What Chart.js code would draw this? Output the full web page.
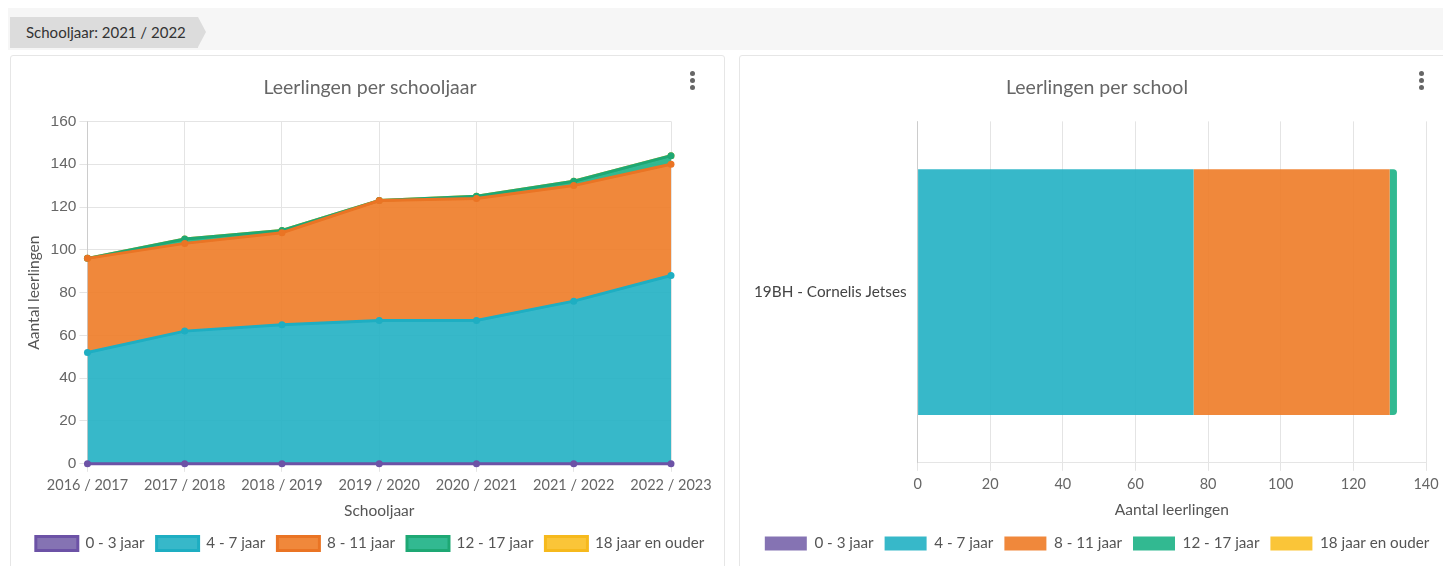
<!DOCTYPE html>
<html>
<head>
<meta charset="utf-8">
<script src="https://cdn.jsdelivr.net/npm/chart.js"></script>
<style>
  body { margin: 0; background: #fff; font-family: Lato, "Open Sans", sans-serif; width: 1443px; height: 566px; overflow: hidden; position: relative; }
  .balk { position: absolute; left: 8px; top: 8px; width: 1435px; height: 42px; background: #f6f6f6; }
  .tag { position: absolute; left: 10px; top: 17px; height: 31px; width: 188px; background: #dcdcdc; color: #333; font-size: 15px; line-height: 31px; padding-left: 16px; box-sizing: border-box; }
  .tag:after { content: ""; position: absolute; right: -8px; top: 0; border-left: 8px solid #dcdcdc; border-top: 15.5px solid transparent; border-bottom: 15.5px solid transparent; }
  .kaart { position: absolute; top: 55px; height: 520px; background: #fff; border: 1px solid #e6e6e6; border-radius: 3px; }
  .menu { position: absolute; top: 15px; width: 4px; }
  .menu span { display: block; width: 5px; height: 5px; border-radius: 50%; background: #666; margin-bottom: 2px; }
  canvas { position: absolute; }
</style>
</head>
<body>
<div class="balk"></div>
<div class="tag">Schooljaar: 2021 / 2022</div>

<div class="kaart" style="left:10px;width:713px;">
  <div class="menu" style="left:679px;"><span></span><span></span><span></span></div>
</div>
<div class="kaart" style="left:739px;width:710px;">
  <div class="menu" style="left:679px;"><span></span><span></span><span></span></div>
</div>

<div style="position:absolute;left:11px;top:58px;width:712px;height:506px;"><canvas id="grafiek-jaar"></canvas></div>
<div style="position:absolute;left:740px;top:58px;width:703px;height:506px;"><canvas id="grafiek-school"></canvas></div>

<script>
// Schooljaren en leeftijdsgroepen
const schooljaren = ["2016 / 2017", "2017 / 2018", "2018 / 2019", "2019 / 2020", "2020 / 2021", "2021 / 2022", "2022 / 2023"];
const groepen = ["0 - 3 jaar", "4 - 7 jaar", "8 - 11 jaar", "12 - 17 jaar", "18 jaar en ouder"];

const jaar0_3 = [0, 0, 0, 0, 0, 0, 0];
const jaar4_7 = [52, 62, 65, 67, 67, 76, 88];
const jaar8_11 = [44, 41, 43, 56, 57, 54, 52];
const jaar12_17 = [0, 2, 1, 0, 1, 2, 4];
const jaar18plus = [0, 0, 0, 0, 0, 0, 0];

// Huidig schooljaar per school
const scholen = ["19BH - Cornelis Jetses"];
const school0_3 = [0];
const school4_7 = [76];
const school8_11 = [54];
const school12_17 = [2];
const school18plus = [0];

const vulKleuren = ["rgba(120,100,171,0.9)", "rgba(33,176,195,0.9)", "rgba(238,123,38,0.9)", "rgba(28,177,133,0.9)", "rgba(250,191,34,0.9)"];
const lijnKleuren = ["#6c52a6", "#1eaec2", "#ea7424", "#1ea874", "#f6b91c"];

const fontNaam = "Lato, 'Open Sans', sans-serif";
Chart.defaults.font.family = fontNaam;
Chart.defaults.color = "#666";

const reeksenJaar = [jaar0_3, jaar4_7, jaar8_11, jaar12_17, jaar18plus];
const reeksenSchool = [school0_3, school4_7, school8_11, school12_17, school18plus];

const legendaLabels = { boxWidth: 42, boxHeight: 14, font: { size: 15.2 }, color: "#555", padding: 12 };

new Chart(document.getElementById("grafiek-jaar"), {
    type: "line",
    data: {
        labels: schooljaren,
        datasets: groepen.map((g, i) => ({
            label: g,
            data: reeksenJaar[i],
            backgroundColor: vulKleuren[i],
            borderColor: lijnKleuren[i],
            borderWidth: 3,
            pointRadius: 3.5,
            pointBackgroundColor: lijnKleuren[i],
            pointBorderWidth: 0,
            fill: i === 0 ? "origin" : "-1",
            clip: 6,
            tension: 0
        }))
    },
    options: {
        responsive: true,
        maintainAspectRatio: false,
        animation: false,
        layout: { padding: { left: 10, right: 4, bottom: 3 } },
        plugins: {
            title: { display: true, text: "Leerlingen per schooljaar", color: "#666", font: { size: 19.5, weight: "normal" }, padding: { top: 18, bottom: 22 } },
            legend: { position: "bottom", labels: legendaLabels },
            tooltip: { enabled: false }
        },
        scales: {
            x: {
                grid: { color: "#e4e4e4" },
                ticks: { font: { size: 14.5 }, color: "#666", maxRotation: 0, padding: 5 },
                title: { display: true, text: "Schooljaar", font: { size: 15.5 }, color: "#555", padding: { top: 2, bottom: 4 } },
                afterFit: (s) => { s.paddingRight = 52; }
            },
            y: {
                stacked: true,
                min: 0,
                max: 160,
                grid: { color: "#e4e4e4" },
                ticks: { stepSize: 20, font: { size: 15.5, family: "'Liberation Sans', Arial, sans-serif" }, color: "#666" },
                title: { display: true, text: "Aantal leerlingen", font: { size: 15.5 }, color: "#555" }
            }
        }
    }
});

new Chart(document.getElementById("grafiek-school"), {
    type: "bar",
    data: {
        labels: scholen,
        datasets: groepen.map((g, i) => ({
            label: g,
            data: reeksenSchool[i],
            backgroundColor: vulKleuren[i],
            borderWidth: 0,
            borderRadius: 4
        }))
    },
    options: {
        indexAxis: "y",
        responsive: true,
        maintainAspectRatio: false,
        animation: false,
        layout: { padding: { left: 11, right: 0, bottom: 3 } },
        plugins: {
            title: { display: true, text: "Leerlingen per school", color: "#666", font: { size: 19.5, weight: "normal" }, padding: { top: 18, bottom: 22 } },
            legend: { position: "bottom", labels: { ...legendaLabels, padding: 11 } },
            tooltip: { enabled: false }
        },
        scales: {
            x: {
                stacked: true,
                min: 0,
                max: 140,
                grid: { color: "#e4e4e4" },
                ticks: { stepSize: 20, font: { size: 14.5 }, color: "#666", padding: 5 },
                title: { display: true, text: "Aantal leerlingen", font: { size: 15.5 }, color: "#555", padding: { top: 2, bottom: 6 } },
                afterFit: (s) => { s.paddingRight = 17; }
            },
            y: {
                stacked: true,
                grid: { display: false },
                ticks: { font: { size: 15.3 }, color: "#444" }
            }
        }
    }
});
</script>
</body>
</html>
